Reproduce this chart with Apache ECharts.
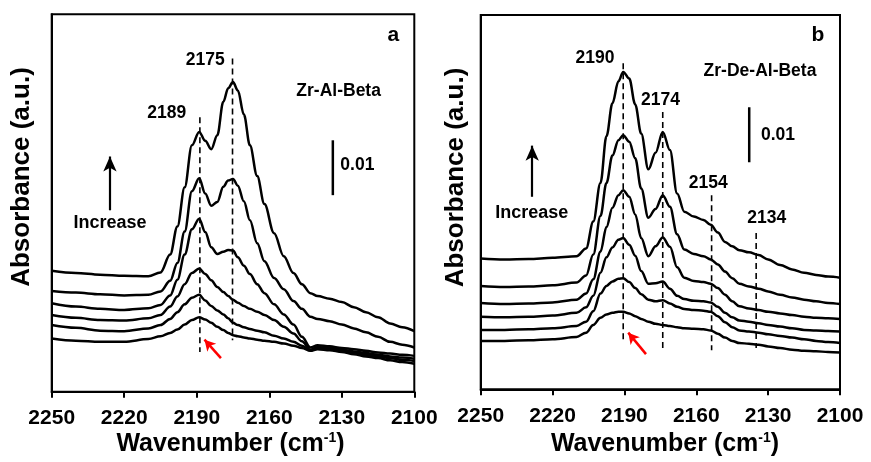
<!DOCTYPE html>
<html><head><meta charset="utf-8">
<script src="https://cdn.jsdelivr.net/npm/echarts@6/dist/echarts.min.js"></script>
<style>html,body{margin:0;padding:0;background:#fff}#c{width:871px;height:462px}</style>
</head><body><div id="c"></div>
<script>
const FONT = '"Liberation Sans", Arial, Helvetica, sans-serif';

// ---------- x ticks ----------
const xTicks = [2250, 2220, 2190, 2160, 2130, 2100];

// ---------- Panel a : Zr-Al-Beta (absorbance, units of 0.001, offset stacked) ----------
const waveA = [2250, 2240, 2230, 2220, 2210, 2205, 2201, 2198, 2195, 2192, 2189, 2186.5, 2184, 2181.5, 2179, 2177, 2175, 2173, 2170.5, 2168, 2165, 2162, 2158, 2154, 2150, 2146.5, 2143, 2140, 2135, 2130, 2125, 2120, 2115, 2110, 2105, 2100];
const a1 = [9.5, 9.1, 8.9, 8.9, 9.4, 9.9, 10.5, 11.1, 12.0, 12.8, 13.3, 12.9, 12.3, 11.6, 11.0, 10.5, 10.1, 9.9, 9.7, 9.5, 9.3, 9.1, 8.9, 8.6, 8.2, 7.8, 7.3, 7.6, 7.4, 7.1, 6.7, 6.3, 6.0, 5.6, 5.3, 5.0];
const a2 = [11.9, 11.4, 10.9, 10.8, 11.3, 11.9, 13.0, 14.2, 15.6, 16.8, 17.3, 16.3, 15.3, 14.5, 13.8, 13.1, 12.3, 11.9, 11.5, 11.2, 10.9, 10.6, 10.0, 9.5, 8.9, 8.2, 7.4, 7.8, 7.6, 7.3, 7.0, 6.6, 6.3, 6.0, 5.7, 5.5];
const a3 = [13.7, 13.2, 12.8, 12.7, 13.1, 13.7, 15.2, 17.0, 19.2, 21.2, 22.0, 21.0, 19.9, 18.7, 17.8, 17.1, 16.4, 15.9, 15.3, 14.8, 14.3, 13.7, 12.8, 11.6, 10.4, 9.0, 7.5, 8.0, 7.8, 7.5, 7.2, 6.9, 6.6, 6.3, 6.1, 5.9];
const a4 = [15.8, 15.2, 14.8, 14.6, 14.9, 15.5, 17.2, 20.0, 24.5, 29.0, 30.9, 28.5, 25.8, 24.6, 25.0, 25.3, 25.2, 24.0, 22.5, 21.0, 19.2, 17.6, 15.6, 13.8, 12.0, 9.8, 7.9, 8.3, 8.1, 7.8, 7.6, 7.3, 7.0, 6.8, 6.6, 6.4];
const a5 = [18.0, 17.7, 17.4, 17.2, 17.3, 17.9, 19.8, 23.0, 28.6, 35.8, 38.1, 35.4, 33.2, 33.9, 36.6, 37.7, 38.0, 36.8, 34.0, 30.6, 26.5, 23.3, 20.3, 18.3, 16.2, 14.8, 13.4, 13.0, 12.6, 12.0, 11.3, 10.6, 9.8, 8.9, 8.4, 7.9];
const a6 = [21.6, 21.2, 20.9, 20.7, 20.6, 21.3, 24.5, 29.5, 36.5, 44.0, 46.4, 44.8, 43.3, 45.8, 51.8, 54.2, 55.3, 53.8, 49.5, 44.0, 38.5, 33.5, 28.3, 24.2, 21.2, 19.2, 17.6, 17.1, 16.6, 16.0, 15.1, 14.2, 13.3, 12.2, 11.5, 10.8];
const peaksA = ['2189', '2175'];

// ---------- Panel b : Zr-De-Al-Beta ----------
const waveB = [2250, 2240, 2230, 2220, 2210, 2206, 2203, 2200, 2197.5, 2195, 2192.5, 2190.5, 2188, 2185.5, 2183, 2180, 2177, 2174, 2171, 2168, 2165, 2161, 2157, 2154, 2151, 2148, 2145, 2142, 2138, 2134, 2130, 2125, 2120, 2115, 2110, 2105, 2100];
const b1 = [8.8, 8.8, 8.9, 9.1, 9.5, 10.3, 11.7, 13.0, 13.6, 13.9, 14.1, 14.1, 13.8, 13.3, 12.8, 12.3, 11.9, 11.7, 11.5, 11.3, 11.1, 11.0, 10.9, 10.7, 10.1, 9.4, 8.8, 8.4, 8.3, 8.1, 7.8, 7.5, 7.2, 7.0, 6.9, 6.8, 6.7];
const b2 = [10.8, 10.8, 10.9, 11.1, 11.5, 12.3, 14.2, 17.4, 18.8, 19.6, 20.1, 20.2, 19.5, 18.4, 17.3, 16.3, 16.0, 16.2, 15.6, 15.0, 14.6, 14.4, 14.3, 14.1, 13.3, 12.2, 11.3, 10.7, 10.5, 10.3, 10.0, 9.7, 9.4, 9.1, 8.8, 8.6, 8.4];
const b3 = [13.2, 13.1, 13.2, 13.4, 13.9, 14.9, 17.0, 21.2, 24.0, 25.8, 27.2, 27.5, 26.3, 24.3, 21.5, 19.2, 19.3, 19.6, 18.3, 17.0, 16.4, 16.1, 16.0, 15.8, 15.0, 13.9, 13.1, 12.5, 12.3, 12.0, 11.7, 11.4, 11.1, 10.8, 10.7, 10.6, 10.5];
const b4 = [15.7, 15.5, 15.6, 15.8, 16.3, 17.4, 20.0, 25.0, 29.5, 33.0, 35.3, 36.2, 35.0, 31.8, 27.5, 24.2, 26.0, 27.6, 25.9, 22.2, 20.3, 19.7, 19.5, 19.2, 18.4, 17.2, 16.0, 15.1, 14.7, 14.4, 14.1, 13.8, 13.5, 13.2, 13.0, 12.9, 12.8];
const b5 = [18.8, 18.6, 18.7, 18.9, 19.4, 20.7, 24.5, 31.5, 37.5, 42.5, 45.3, 46.2, 45.0, 42.0, 36.5, 31.2, 32.8, 35.3, 33.2, 28.2, 25.4, 24.6, 24.2, 23.6, 22.7, 21.4, 20.2, 19.2, 18.7, 18.3, 17.8, 17.2, 16.7, 16.3, 16.0, 15.7, 15.5];
const b6 = [23.8, 23.6, 23.7, 23.9, 24.2, 25.6, 30.5, 37.5, 46.0, 52.0, 56.0, 57.7, 56.5, 51.8, 46.5, 40.0, 43.0, 46.8, 43.5, 35.6, 32.3, 31.4, 30.8, 29.9, 28.5, 26.8, 26.0, 25.3, 24.9, 24.4, 23.6, 22.6, 21.8, 21.2, 20.8, 20.5, 20.3];
const peaksB = ['2190', '2174', '2154', '2134'];

const scaleBarLabel = '0.01';   // 0.01 absorbance = 10 units

function pairs(xs, ys) { return xs.map((x, i) => [x, ys[i]]); }

const chart = echarts.init(document.getElementById('c'), null, { renderer: 'canvas' });

function xAxisCfg(gi) {
  return {
    gridIndex: gi, type: 'value', inverse: true,
    min: xTicks[xTicks.length - 1], max: xTicks[0], interval: xTicks[0] - xTicks[1],
    axisLine: { show: true, lineStyle: { color: '#000', width: 2 } },
    axisTick: { show: true, inside: false, length: 6, lineStyle: { color: '#000', width: 2 } },
    axisLabel: { color: '#000', fontSize: 21, fontWeight: 'bold', fontFamily: FONT, margin: 16, formatter: v => String(v) },
    splitLine: { show: false }
  };
}
function yAxisCfg(gi, max) {
  return {
    gridIndex: gi, type: 'value', min: 0, max: max,
    axisLine: { show: true, lineStyle: { color: '#000', width: 2 } },
    axisTick: { show: false }, axisLabel: { show: false }, splitLine: { show: false }
  };
}
function curve(gi, xs, ys) {
  return {
    type: 'line', xAxisIndex: gi, yAxisIndex: gi, data: pairs(xs, ys),
    showSymbol: false, symbol: 'none', smooth: 0.35, smoothMonotone: 'x',
    lineStyle: { color: '#000', width: 2.5 }, z: 3, silent: true
  };
}
function seg(gi, p1, p2, style) {
  return {
    type: 'line', xAxisIndex: gi, yAxisIndex: gi, data: [p1, p2],
    showSymbol: false, symbol: 'none', lineStyle: style, z: 2, silent: true
  };
}
function texts(gi, items, size, align) {
  return {
    type: 'line', xAxisIndex: gi, yAxisIndex: gi, silent: true, z: 5,
    showSymbol: true, symbol: 'circle', symbolSize: 0,
    lineStyle: { opacity: 0 }, itemStyle: { opacity: 1, color: '#000' },
    data: items.map(it => ({ value: [it[0], it[1]], name: it[2] })),
    label: {
      show: true, position: 'inside', formatter: p => p.name, color: '#000', opacity: 1,
      fontSize: size, fontWeight: 'bold', fontFamily: FONT, align: align || 'center', verticalAlign: 'middle'
    },
    labelLayout: { hideOverlap: false }
  };
}
function arrow(gi, p1, p2, color, w, head) {
  return {
    type: 'line', xAxisIndex: gi, yAxisIndex: gi, data: [p1, p2], showSymbol: false, symbol: 'none',
    lineStyle: { opacity: 0 }, silent: true, z: 6,
    markLine: {
      silent: true, symbol: ['none', 'arrow'], symbolSize: head, animation: false,
      label: { show: false },
      lineStyle: { color: color, width: w, type: 'solid' },
      itemStyle: { color: color },
      data: [[{ coord: p1 }, { coord: p2 }]]
    }
  };
}
const dash = { color: '#000', width: 1.6, type: [6, 4] };
const bar = { color: '#000', width: 2.5, type: 'solid' };

const series = [];
[a1, a2, a3, a4, a5, a6].forEach(s => series.push(curve(0, waveA, s)));
[b1, b2, b3, b4, b5, b6].forEach(s => series.push(curve(1, waveB, s)));

// panel a annotations
series.push(seg(0, [+peaksA[0] - 0.3, 49.0], [+peaksA[0] - 0.3, 7.1], dash));
series.push(seg(0, [+peaksA[1] + 0.2, 59.5], [+peaksA[1] + 0.2, 9.2], dash));
series.push(seg(0, [2133.7, 35.1], [2133.7, 44.9], bar));
series.push(texts(0, [[2202.4, 49.7, peaksA[0]], [2186.5, 59.2, peaksA[1]]], 17.5));
series.push(texts(0, [[2131.3, 53.75, 'Zr-Al-Beta']], 17.5));
series.push(texts(0, [[2225.9, 30.2, 'Increase']], 18));
series.push(texts(0, [[2108.7, 63.7, 'a']], 21));
series.push(texts(0, [[2130.6, 40.5, scaleBarLabel]], 17.5, 'left'));
series.push(arrow(0, [2225.9, 32.4], [2225.9, 42.0], '#000', 2.2, [10, 15]));
series.push(arrow(0, [2180.0, 6.0], [2186.8, 9.3], '#ff0000', 2.5, [9, 11]));

// panel b annotations
series.push(seg(1, [2190.5, 59.3], [2190.5, 8.4], dash));
series.push(seg(1, [2174, 50.4], [2174, 7.5], dash));
series.push(seg(1, [2153.6, 35.3], [2153.6, 7.1], dash));
series.push(seg(1, [2135, 28.4], [2135, 7.5], dash));
series.push(seg(1, [2137.9, 41.3], [2137.9, 51.3], bar));
series.push(texts(1, [[2202.3, 60.2, peaksB[0]], [2174.9, 52.6, peaksB[1]], [2155, 37.5, peaksB[2]], [2130.6, 31.1, peaksB[3]]], 17.5));
series.push(texts(1, [[2133.4, 57.9, 'Zr-De-Al-Beta']], 17.5));
series.push(texts(1, [[2228.7, 32.0, 'Increase']], 18));
series.push(texts(1, [[2109.2, 64.4, 'b']], 21));
series.push(texts(1, [[2133.0, 46.2, scaleBarLabel]], 17.5, 'left'));
series.push(arrow(1, [2228.5, 35.0], [2228.5, 44.3], '#000', 2.2, [10, 15]));
series.push(arrow(1, [2181.0, 6.4], [2188.4, 10.3], '#ff0000', 2.5, [9, 11]));

const titleStyle = { fontSize: 26, fontWeight: 'bold', fontFamily: FONT, fill: '#000', textAlign: 'center', textVerticalAlign: 'middle' };
const xTitle = 'Wavenumber (cm{sup|-1})';
const rich = { sup: { fontSize: 14, fontWeight: 'bold', fontFamily: FONT, verticalAlign: 'top', fill: '#000' } };

chart.setOption({
  animation: false,
  backgroundColor: '#fff',
  grid: [
    { left: 51.7, top: 14.3, width: 362.6, height: 377.4, show: true, borderColor: '#000', borderWidth: 2, backgroundColor: 'transparent' },
    { left: 480.7, top: 15, width: 359.3, height: 374.3, show: true, borderColor: '#000', borderWidth: 2, backgroundColor: 'transparent' }
  ],
  xAxis: [xAxisCfg(0), xAxisCfg(1)],
  yAxis: [yAxisCfg(0, 67.4), yAxisCfg(1, 68.05)],
  series: series,
  graphic: [
    { type: 'text', x: 22, y: 177, rotation: Math.PI / 2, style: Object.assign({ text: 'Absorbance (a.u.)' }, titleStyle) },
    { type: 'text', x: 456, y: 177.5, rotation: Math.PI / 2, style: Object.assign({ text: 'Absorbance (a.u.)' }, titleStyle) },
    { type: 'text', x: 230.5, y: 444, style: Object.assign({ text: xTitle, rich: rich }, titleStyle, { fontSize: 25 }) },
    { type: 'text', x: 665, y: 444, style: Object.assign({ text: xTitle, rich: rich }, titleStyle, { fontSize: 25 }) }
  ]
});
</script></body></html>
